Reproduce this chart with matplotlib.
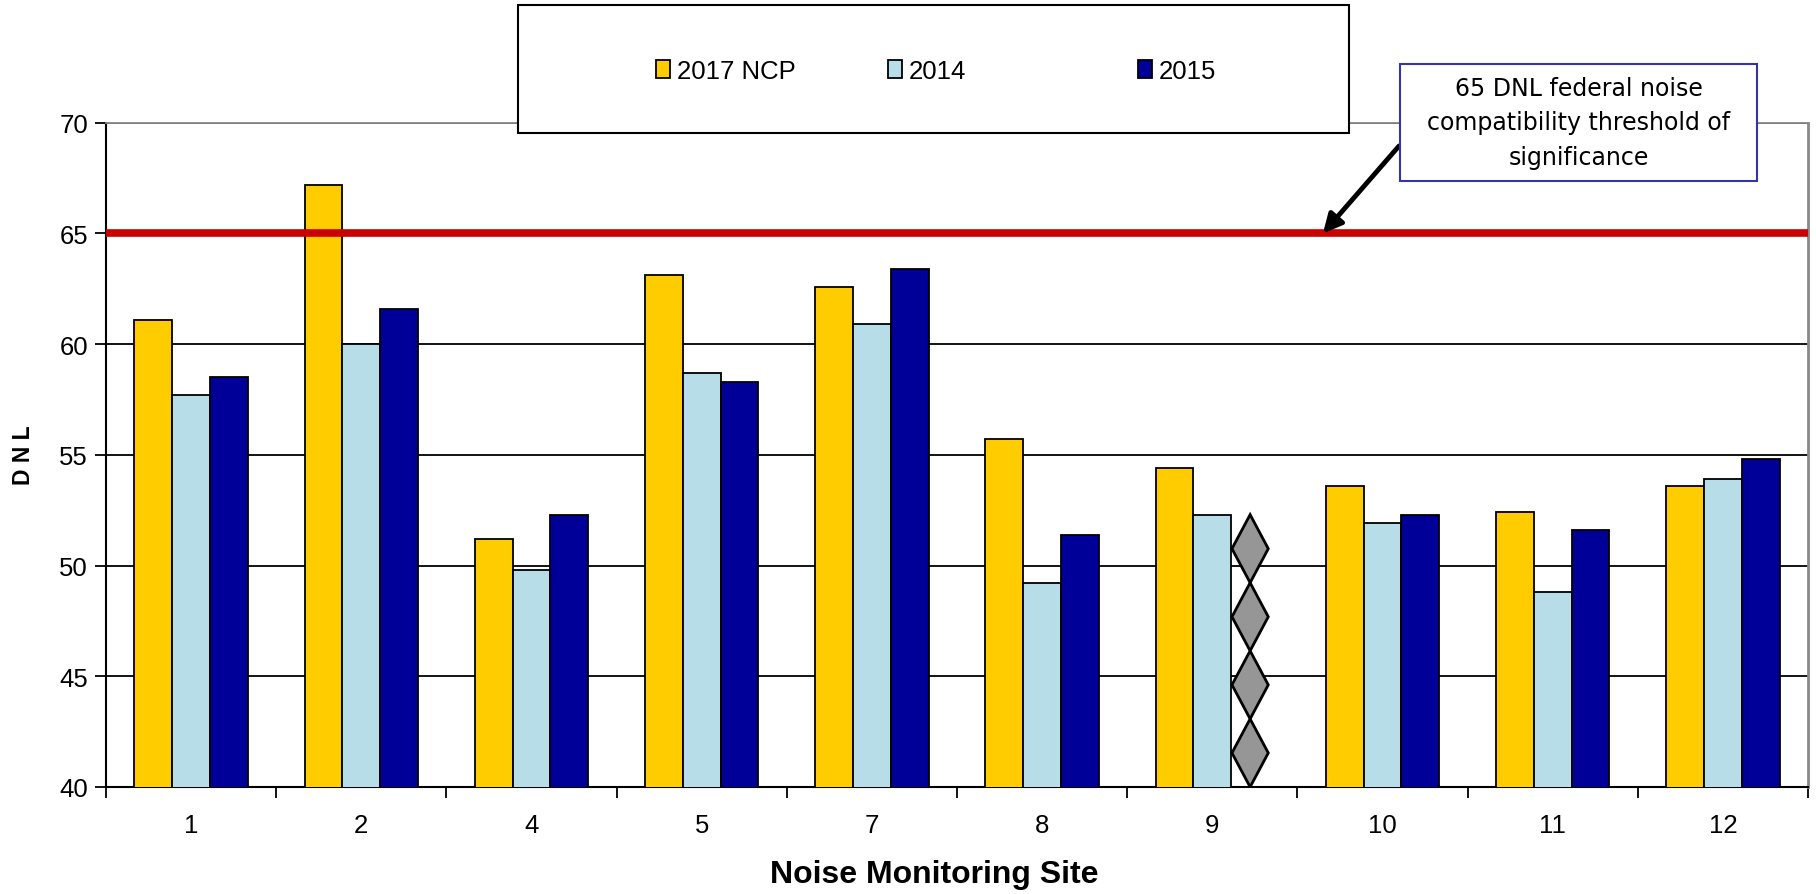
import numpy as np
import matplotlib.pyplot as plt
from matplotlib.patches import Rectangle, Polygon

# 站點與各年度 DNL
sites = ['1', '2', '4', '5', '7', '8', '9', '10', '11', '12']
ncp_2017 = [61.1, 67.2, 51.2, 63.1, 62.6, 55.7, 54.4, 53.6, 52.4, 53.6]
dnl_2014 = [57.7, 60.0, 49.8, 58.7, 60.9, 49.2, 52.3, 51.9, 48.8, 53.9]
dnl_2015 = [58.5, 61.6, 52.3, 58.3, 63.4, 51.4, np.nan, 52.3, 51.6, 54.8]
series_names = ['2017 NCP', '2014', '2015']
series_colors = ['#FFCC00', '#B7DEE8', '#000099']

# 9 號站 2015 無資料，用菱形符號標示
gap_site = '9'
gap_top = 52.3
threshold = 65
yticks = [40, 45, 50, 55, 60, 65, 70]

plt.rcParams['font.family'] = ['Liberation Sans', 'DejaVu Sans']

fig = plt.figure(figsize=(18.16, 8.95), dpi=100)
ax = fig.add_axes([106 / 1816, 1 - 788 / 895, 1702 / 1816, 664.3 / 895])

x = np.arange(len(sites))
w = 1 / 4.5
bars = []
for k, (vals, c) in enumerate(zip([ncp_2017, dnl_2014, dnl_2015], series_colors)):
    b = ax.bar(x + (k - 1) * w, vals, width=w, color=c, edgecolor='black',
               linewidth=1.3, zorder=3, label=series_names[k])
    bars.append(b)

# 菱形鏈
gi = sites.index(gap_site)
cx = gi + w
n_d = 4
h = (gap_top - 40) / n_d
for j in range(n_d):
    y0 = 40 + j * h
    pts = [(cx, y0), (cx + w * 0.48, y0 + h / 2), (cx, y0 + h), (cx - w * 0.48, y0 + h / 2)]
    ax.add_patch(Polygon(pts, closed=True, facecolor='#969696', edgecolor='black',
                         linewidth=2, zorder=3))

# 65 DNL 門檻線
ax.axhline(threshold, color='#CC0000', linewidth=5.5, zorder=4)

ax.set_xlim(-0.5, len(sites) - 0.5)
ax.set_ylim(40, 70)
ax.set_yticks(yticks)
ax.yaxis.grid(True, color='black', linewidth=1.3)
ax.set_axisbelow(True)

ax.set_xticks(x)
ax.set_xticklabels(sites, fontsize=18.5)
ax.set_xticks(np.arange(-0.5, len(sites), 1), minor=True)
ax.tick_params(axis='x', which='major', length=0, pad=19)
ax.tick_params(axis='x', which='minor', length=8, width=1.3, direction='out')
ax.tick_params(axis='y', labelsize=18.5, length=8, width=1.3, pad=5)

for s in ['left', 'bottom']:
    ax.spines[s].set_color('black')
    ax.spines[s].set_linewidth(1.5)
ax.spines['top'].set_color('#888888')
ax.spines['top'].set_linewidth(1.3)
ax.spines['right'].set_color('#888888')
ax.spines['right'].set_linewidth(2)

fig.text(934 / 1816, 1 - 875 / 895, 'Noise Monitoring Site', fontsize=23,
         fontweight='bold', ha='center', va='center')
fig.text(23 / 1816, 1 - 455 / 895, 'D N L', fontsize=16.5, fontweight='bold',
         rotation=90, ha='center', va='center')

# 圖例外框
fig.patches.append(Rectangle((518 / 1816, 1 - 134 / 895), 831 / 1816, 128 / 895,
                             transform=fig.transFigure, facecolor='white',
                             edgecolor='black', linewidth=1.5, zorder=4))
leg_x = [656 / 1816, 888 / 1816, 1138 / 1816]
for b, name, lx in zip(bars, series_names, leg_x):
    fig.legend(handles=[b], labels=[name], loc='center left',
               bbox_to_anchor=(lx, 1 - 72 / 895), frameon=False, fontsize=18.5,
               handlelength=0.55, handleheight=0.65, handletextpad=0.25,
               borderpad=0, borderaxespad=0)

# 說明框與箭頭
fig.patches.append(Rectangle((1400 / 1816, 1 - 182 / 895), 357 / 1816, 117 / 895,
                             transform=fig.transFigure, facecolor='white',
                             edgecolor='#3333AA', linewidth=1.5, zorder=4))
fig.text(1578.5 / 1816, 1 - 123.5 / 895,
         '65 DNL federal noise\ncompatibility threshold of\nsignificance',
         family='DejaVu Sans', fontsize=17, ha='center', va='center',
         multialignment='center', linespacing=1.55, zorder=6)
ax.annotate('', xy=(6.65, threshold), xytext=(1399 / 1816, 1 - 147 / 895),
            textcoords='figure fraction', annotation_clip=False,
            arrowprops=dict(arrowstyle='-|>', color='black', lw=3.5,
                            mutation_scale=28, shrinkA=0, shrinkB=0), zorder=6)

fig.savefig('out.png', dpi=100)
